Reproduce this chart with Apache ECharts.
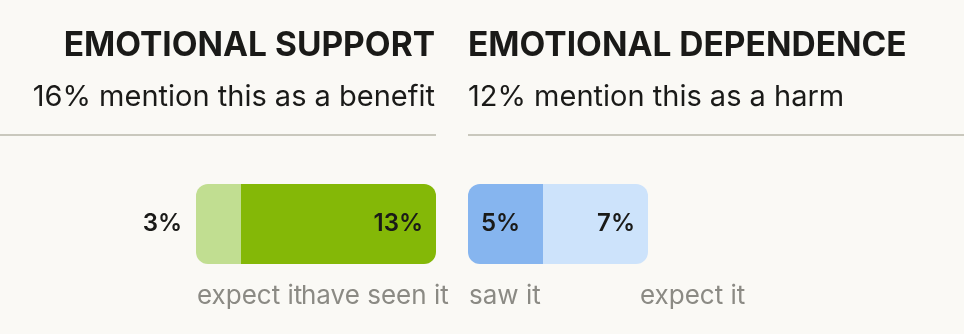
<!DOCTYPE html>
<html><head><meta charset="utf-8">
<script src="https://cdn.jsdelivr.net/npm/echarts@6/dist/echarts.min.js"></script>
<style>html,body{margin:0;padding:0;background:#faf9f5}#c{width:964px;height:334px}</style>
</head><body><div id="c"></div>
<script>
const titles = ['EMOTIONAL SUPPORT', 'EMOTIONAL DEPENDENCE'];
const subtitles = ['16% mention this as a benefit', '12% mention this as a harm'];
const supportNames = ['expect it', 'have seen it'];
const supportValues = [3, 13];
const dependenceNames = ['saw it', 'expect it'];
const dependenceValues = [5, 7];
const axisMax = 20;

const FONT = 'Inter';
const pxPerUnit = 15;
const leftEnd = 436, rightStart = 468;
const supportTotal = supportValues.reduce((a, b) => a + b, 0);

const chart = echarts.init(document.getElementById('c'), null, {renderer: 'canvas'});
const labelStyle = {fontFamily: FONT, fontSize: 24, fontWeight: 600, color: '#1a1a18'};
const R = 12;

function gText(text, x, y, size, weight, color, align) {
  return {type: 'text', style: {text, x, y, fontFamily: FONT, fontSize: size, fontWeight: weight,
    fill: color, textAlign: align, textVerticalAlign: 'middle'}};
}

const option = {
  backgroundColor: '#faf9f5',
  animation: false,
  grid: [
    {left: leftEnd - supportTotal * pxPerUnit, width: axisMax * pxPerUnit, top: 184, height: 80},
    {left: rightStart, width: axisMax * pxPerUnit, top: 184, height: 80}
  ],
  xAxis: [
    {type: 'value', gridIndex: 0, min: 0, max: axisMax, show: false},
    {type: 'value', gridIndex: 1, min: 0, max: axisMax, show: false}
  ],
  yAxis: [
    {type: 'category', gridIndex: 0, data: ['support'], show: false},
    {type: 'category', gridIndex: 1, data: ['dependence'], show: false}
  ],
  series: [
    {type: 'bar', name: supportNames[0], xAxisIndex: 0, yAxisIndex: 0, stack: 's', barWidth: 80,
      data: [supportValues[0]], itemStyle: {color: '#c1de91', borderRadius: [R, 0, 0, R]},
      label: {show: true, position: 'left', distance: 14, formatter: '{c}%', ...labelStyle}},
    {type: 'bar', name: supportNames[1], xAxisIndex: 0, yAxisIndex: 0, stack: 's', barWidth: 80,
      data: [supportValues[1]], itemStyle: {color: '#84b807', borderRadius: [0, R, R, 0]},
      label: {show: true, position: 'insideRight', distance: 13, formatter: '{c}%', ...labelStyle}},
    {type: 'bar', name: dependenceNames[0], xAxisIndex: 1, yAxisIndex: 1, stack: 'd', barWidth: 80,
      data: [dependenceValues[0]], itemStyle: {color: '#86b5ef', borderRadius: [R, 0, 0, R]},
      label: {show: true, position: 'insideLeft', distance: 13, formatter: '{c}%', ...labelStyle}},
    {type: 'bar', name: dependenceNames[1], xAxisIndex: 1, yAxisIndex: 1, stack: 'd', barWidth: 80,
      data: [dependenceValues[1]], itemStyle: {color: '#cde3fb', borderRadius: [0, R, R, 0]},
      label: {show: true, position: 'insideRight', distance: 13, formatter: '{c}%', ...labelStyle}}
  ],
  graphic: [
    gText(titles[0], 435, 46, 33.5, 'bold', '#1a1a18', 'right'),
    gText(titles[1], 468, 46, 33.5, 'bold', '#1a1a18', 'left'),
    gText(subtitles[0], 435, 97, 29, 'normal', '#1a1a18', 'right'),
    gText(subtitles[1], 468, 97, 29, 'normal', '#1a1a18', 'left'),
    {type: 'line', shape: {x1: 0, y1: 135, x2: leftEnd, y2: 135}, style: {stroke: '#c9c8bd', lineWidth: 2}},
    {type: 'line', shape: {x1: rightStart, y1: 135, x2: 964, y2: 135}, style: {stroke: '#c9c8bd', lineWidth: 2}},
    gText(supportNames[0], 197, 296, 26, 'normal', '#8b8a84', 'left'),
    gText(supportNames[1], 301, 296, 26, 'normal', '#8b8a84', 'left'),
    gText(dependenceNames[0], 469, 296, 26, 'normal', '#8b8a84', 'left'),
    gText(dependenceNames[1], 640, 296, 26, 'normal', '#8b8a84', 'left')
  ]
};
chart.setOption(option);
</script></body></html>
